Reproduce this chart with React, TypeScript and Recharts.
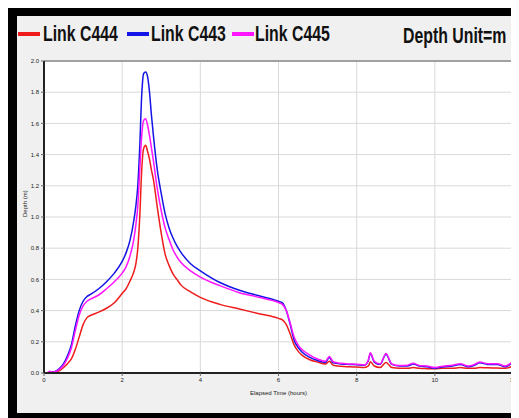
import React from "react";
import { LineChart, Line, XAxis, YAxis, CartesianGrid, ReferenceLine } from "recharts";

const times = [0, 0.1, 0.15, 0.2, 0.3, 0.4, 0.5, 0.6, 0.7, 0.8, 0.9, 1.0, 1.1, 1.2, 1.4, 1.6, 1.8, 2.0, 2.1, 2.2, 2.3, 2.35, 2.4, 2.45, 2.5, 2.55, 2.6, 2.65, 2.7, 2.75, 2.8, 2.9, 3.0, 3.1, 3.2, 3.3, 3.4, 3.5, 3.75, 4.0, 4.5, 5.0, 5.5, 6.0, 6.1, 6.2, 6.3, 6.4, 6.5, 6.6, 6.8, 7.0, 7.2, 7.3, 7.4, 7.6, 7.8, 8.0, 8.2, 8.3, 8.35, 8.45, 8.6, 8.75, 8.9, 9.1, 9.3, 9.45, 9.6, 9.8, 10.0, 10.2, 10.45, 10.65, 10.85, 11.0, 11.15, 11.35, 11.6, 11.8, 12.0];

const linkC444 = [0, 0, 0, 0, 0.005, 0.015, 0.035, 0.06, 0.09, 0.15, 0.23, 0.31, 0.355, 0.37, 0.39, 0.415, 0.45, 0.51, 0.54, 0.59, 0.65, 0.7, 0.8, 1.0, 1.3, 1.44, 1.46, 1.42, 1.37, 1.3, 1.24, 1.06, 0.895, 0.76, 0.69, 0.635, 0.6, 0.565, 0.52, 0.485, 0.44, 0.41, 0.38, 0.35, 0.34, 0.31, 0.25, 0.18, 0.14, 0.115, 0.085, 0.07, 0.058, 0.075, 0.05, 0.043, 0.04, 0.038, 0.036, 0.045, 0.072, 0.045, 0.035, 0.068, 0.035, 0.03, 0.03, 0.035, 0.03, 0.028, 0.027, 0.03, 0.03, 0.035, 0.03, 0.03, 0.035, 0.033, 0.032, 0.03, 0.045];

const linkC443 = [0, 0, 0.003, 0.005, 0.012, 0.03, 0.06, 0.11, 0.18, 0.3, 0.4, 0.46, 0.49, 0.505, 0.54, 0.585, 0.64, 0.715, 0.77, 0.85, 0.98, 1.07, 1.2, 1.45, 1.78, 1.92, 1.93, 1.9, 1.8, 1.65, 1.52, 1.3, 1.15, 1.02, 0.93, 0.865, 0.815, 0.775, 0.7, 0.655, 0.58, 0.53, 0.495, 0.46, 0.45, 0.4, 0.31, 0.21, 0.165, 0.135, 0.1, 0.08, 0.068, 0.1, 0.065, 0.058, 0.055, 0.053, 0.05, 0.08, 0.125, 0.07, 0.055, 0.12, 0.055, 0.045, 0.045, 0.058, 0.045, 0.04, 0.03, 0.038, 0.045, 0.055, 0.04, 0.048, 0.065, 0.055, 0.055, 0.04, 0.07];

const linkC445 = [0, 0.003, 0.012, 0.005, 0.01, 0.025, 0.05, 0.095, 0.16, 0.27, 0.37, 0.43, 0.46, 0.475, 0.5, 0.54, 0.585, 0.64, 0.68, 0.75, 0.86, 0.95, 1.07, 1.3, 1.52, 1.62, 1.63, 1.59, 1.52, 1.44, 1.36, 1.18, 1.04, 0.93, 0.855, 0.79, 0.745, 0.71, 0.655, 0.615, 0.56, 0.515, 0.485, 0.452, 0.44, 0.4, 0.32, 0.23, 0.18, 0.15, 0.115, 0.09, 0.075, 0.105, 0.072, 0.062, 0.058, 0.056, 0.052, 0.085, 0.13, 0.075, 0.058, 0.125, 0.058, 0.048, 0.05, 0.063, 0.048, 0.045, 0.035, 0.043, 0.05, 0.06, 0.045, 0.053, 0.07, 0.06, 0.06, 0.045, 0.075];

const xTicks = [0, 2, 4, 6, 8, 10, 12];
const yTicks = [0, 0.2, 0.4, 0.6, 0.8, 1.0, 1.2, 1.4, 1.6, 1.8, 2.0];
const seriesNames = ["Link C444", "Link C443", "Link C445"];
const seriesColors = ["#ee1c1c", "#1414e6", "#ff14ff"];

const data = times.map((t, i) => ({
  t,
  c444: linkC444[i],
  c443: linkC443[i],
  c445: linkC445[i],
}));

const legendText: React.CSSProperties = {
  position: "absolute",
  top: 6,
  fontFamily: '"Liberation Sans", Arial, sans-serif',
  fontSize: 22,
  fontWeight: "bold",
  color: "#111",
  lineHeight: "24px",
  whiteSpace: "nowrap",
  transform: "scaleX(0.72)",
  transformOrigin: "left center",
};

export default function App() {
  const legendPos = [
    { line: 1, text: 26 },
    { line: 110, text: 134 },
    { line: 215, text: 238 },
  ];
  return (
    <div style={{ position: "relative", width: 511, height: 410, background: "#000" }}>
      <div style={{ position: "absolute", left: 9, top: 8, width: 502, height: 397, background: "#f0f0f0" }}>
        {seriesNames.map((n, i) => (
          <React.Fragment key={n}>
            <div style={{ position: "absolute", left: legendPos[i].line, top: 16, width: 22, height: 4, background: seriesColors[i] }} />
            <div style={{ ...legendText, left: legendPos[i].text }}>{n}</div>
          </React.Fragment>
        ))}
        <div style={{ ...legendText, left: 386, top: 8 }}>Depth Unit=m</div>
        <div style={{ position: "absolute", left: 0, top: 0 }}>
          <LineChart width={502} height={397} data={data} margin={{ top: 45, right: 6, left: 0, bottom: 10 }}>
            <CartesianGrid stroke="#d9d9d9" fill="#ffffff" strokeWidth={1} />
            <XAxis
              dataKey="t"
              type="number"
              domain={[0, 12]}
              ticks={xTicks}
              height={30}
              tickSize={3}
              tick={{ fontSize: 6, fill: "#222", fontFamily: "Liberation Sans" }}
              axisLine={{ stroke: "#222", strokeWidth: 2 }}
              tickLine={{ stroke: "#666" }}
              label={{ value: "Elapsed Time (hours)", position: "insideBottom", offset: 8, fontSize: 6, fill: "#222", fontFamily: "Liberation Sans" }}
            />
            <YAxis
              type="number"
              domain={[0, 2]}
              ticks={yTicks}
              width={27}
              tickSize={3}
              tickFormatter={(v: number) => v.toFixed(1)}
              tick={{ fontSize: 6, fill: "#222", fontFamily: "Liberation Sans" }}
              axisLine={{ stroke: "#222", strokeWidth: 2 }}
              tickLine={{ stroke: "#666" }}
              label={{ value: "Depth (m)", angle: -90, position: "insideLeft", offset: 8, fontSize: 6, fill: "#222", fontFamily: "Liberation Sans" }}
            />
            <ReferenceLine y={2} stroke="#8a8a8a" strokeWidth={1.5} />
            <Line dataKey="c444" name="Link C444" stroke={seriesColors[0]} strokeWidth={1.5} dot={false} isAnimationActive={false} type="monotone" />
            <Line dataKey="c443" name="Link C443" stroke={seriesColors[1]} strokeWidth={1.5} dot={false} isAnimationActive={false} type="monotone" />
            <Line dataKey="c445" name="Link C445" stroke={seriesColors[2]} strokeWidth={1.5} dot={false} isAnimationActive={false} type="monotone" />
          </LineChart>
        </div>
      </div>
    </div>
  );
}
